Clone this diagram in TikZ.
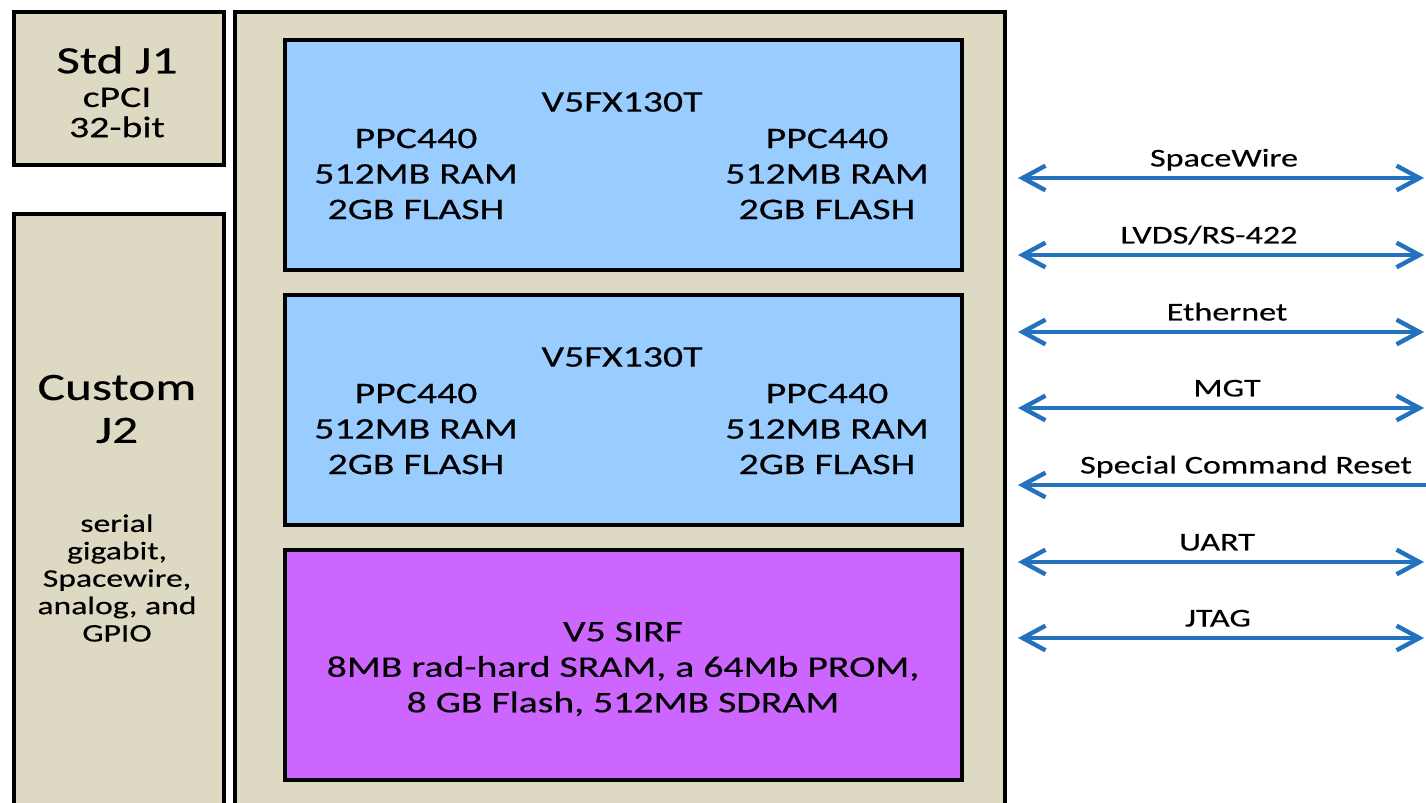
\documentclass[tikz,border=0pt]{standalone}
\usepackage{fontspec}
\setmainfont{Carlito}[FakeStretch=1.33,FakeBold=0.4]
\usepackage{tikz}
\usetikzlibrary{arrows.meta,positioning}
\definecolor{boardtan}{HTML}{DDD9C3}
\definecolor{fpgablue}{HTML}{99CCFF}
\definecolor{sirfpurple}{HTML}{CC66FF}
\definecolor{linkblue}{RGB}{36,114,190}

\begin{document}
\begin{tikzpicture}[
    conn/.style={draw=black, line width=1.2pt, fill=boardtan, anchor=north west, inner sep=0pt, minimum width=2.10cm},
    chip/.style={draw=black, line width=1.2pt, anchor=north west, inner sep=0pt, minimum width=6.77cm},
    bigtxt/.style={font=\fontsize{11}{12.2}\selectfont, align=center, inner sep=0pt},
    bodytxt/.style={font=\fontsize{8.5}{10.1}\selectfont, align=center, inner sep=0pt},
    tighttxt/.style={font=\fontsize{8.5}{8.6}\selectfont, align=center, inner sep=0pt},
    smalltxt/.style={font=\fontsize{7.2}{7.8}\selectfont, align=center, inner sep=0pt},
    lbl/.style={font=\fontsize{7.3}{8.5}\selectfont, anchor=base, inner sep=0pt},
    link/.style={draw=linkblue, line width=1.25pt, {Straight Barb[length=6.5pt,width=7pt]}-{Straight Barb[length=6.5pt,width=7pt]}},
    linkin/.style={draw=linkblue, line width=1.25pt, {Straight Barb[length=6.5pt,width=7pt]}-}
]
\useasboundingbox (0,0) rectangle (14.26,-8.03);
\clip (0,0) rectangle (14.26,-8.03);

\node[conn, minimum height=1.53cm] (j1) at (0.12,-0.10) {};
\node[conn, minimum height=6.10cm] (j2) at (0.12,-2.12) {};
\node[conn, minimum width=7.70cm, minimum height=8.20cm] (board) at (2.33,-0.10) {};

\node[bigtxt] (j1-name) at (1.17,-0.60) {Std J1};
\node[tighttxt] (j1-info) at (1.17,-1.125) {cPCI\\32-bit};
\node[bigtxt] (j2-name) at (1.17,-4.09) {Custom\\J2};
\node[smalltxt] (j2-info) at (1.17,-5.78) {serial\\gigabit,\\Spacewire,\\analog, and\\GPIO};

\node[chip, fill=fpgablue, minimum height=2.30cm] (fpga1) at (2.83,-0.38) {};
\node[bodytxt] (fpga1-name) at (6.22,-1.02) {V5FX130T};
\node[bodytxt] (fpga1-l) at (4.16,-1.74) {PPC440\\512MB RAM\\2GB FLASH};
\node[bodytxt] (fpga1-r) at (8.27,-1.74) {PPC440\\512MB RAM\\2GB FLASH};

\node[chip, fill=fpgablue, minimum height=2.30cm] (fpga2) at (2.83,-2.93) {};
\node[bodytxt] (fpga2-name) at (6.22,-3.57) {V5FX130T};
\node[bodytxt] (fpga2-l) at (4.16,-4.29) {PPC440\\512MB RAM\\2GB FLASH};
\node[bodytxt] (fpga2-r) at (8.27,-4.29) {PPC440\\512MB RAM\\2GB FLASH};

\node[chip, fill=sirfpurple, minimum height=2.30cm] (sirf) at (2.83,-5.48) {};
\node[bodytxt] (sirf-txt) at (6.23,-6.69) {V5 SIRF\\8MB rad-hard SRAM, a 64Mb PROM,\\8 GB Flash, 512MB SDRAM};

\coordinate (sw-l) at (10.18,-1.78);   \coordinate (sw-r) at (14.24,-1.78);
\coordinate (lv-l) at (10.18,-2.55);   \coordinate (lv-r) at (14.24,-2.55);
\coordinate (eth-l) at (10.18,-3.32);  \coordinate (eth-r) at (14.24,-3.32);
\coordinate (mgt-l) at (10.18,-4.08);  \coordinate (mgt-r) at (14.24,-4.08);
\coordinate (rst-l) at (10.18,-4.85);  \coordinate (rst-r) at (14.26,-4.85);
\coordinate (uart-l) at (10.18,-5.62); \coordinate (uart-r) at (14.24,-5.62);
\coordinate (jtag-l) at (10.18,-6.38); \coordinate (jtag-r) at (14.24,-6.38);

\draw[link] (sw-l) -- (sw-r);
\draw[link] (lv-l) -- (lv-r);
\draw[link] (eth-l) -- (eth-r);
\draw[link] (mgt-l) -- (mgt-r);
\draw[linkin] (rst-l) -- (rst-r);
\draw[link] (uart-l) -- (uart-r);
\draw[link] (jtag-l) -- (jtag-r);

\node[lbl] (sw-t) at (12.24,-1.665) {SpaceWire};
\node[lbl] (lv-t) at (12.09,-2.435) {LVDS/RS-422};
\node[lbl] (eth-t) at (12.27,-3.205) {Ethernet};
\node[lbl] (mgt-t) at (12.27,-3.965) {MGT};
\node[lbl] (rst-t) at (12.46,-4.735) {Special Command Reset};
\node[lbl] (uart-t) at (12.17,-5.505) {UART};
\node[lbl] (jtag-t) at (12.18,-6.265) {JTAG};
\end{tikzpicture}
\end{document}
